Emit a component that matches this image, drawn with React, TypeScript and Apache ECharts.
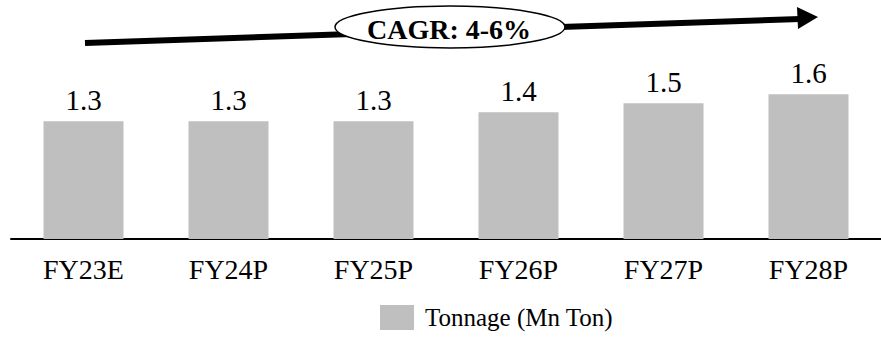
import React, { useEffect, useRef } from "react";
import * as echarts from "echarts";

const categories = ["FY23E", "FY24P", "FY25P", "FY26P", "FY27P", "FY28P"];
const tonnage = [1.3, 1.3, 1.3, 1.4, 1.5, 1.6];
const seriesName = "Tonnage (Mn Ton)";
const cagrText = "CAGR: 4-6%";

const FONT = "'Liberation Serif', 'Times New Roman', serif";

export default function App() {
  const ref = useRef<HTMLDivElement>(null);
  useEffect(() => {
    if (!ref.current) return;
    const chart = echarts.init(ref.current, undefined, { renderer: "svg" });
    chart.setOption({
      animation: false,
      backgroundColor: "#ffffff",
      grid: { left: 11, width: 877, top: 58, height: 181 },
      xAxis: {
        type: "category",
        data: categories,
        axisLine: { show: true, lineStyle: { color: "#000", width: 2 } },
        axisTick: { show: false },
        axisLabel: { color: "#000", fontFamily: FONT, fontSize: 28, margin: 16 },
      },
      yAxis: {
        type: "value",
        min: 0,
        max: 2,
        show: false,
        splitLine: { show: false },
      },
      legend: {
        left: 380,
        top: 305,
        padding: 0,
        itemWidth: 34,
        itemHeight: 25,
        icon: "rect",
        textStyle: { fontFamily: FONT, fontSize: 25, color: "#000", padding: [0, 0, 0, 6] },
        data: [seriesName],
      },
      series: [
        {
          type: "bar",
          name: seriesName,
          data: tonnage,
          barWidth: 80,
          itemStyle: { color: "#BFBFBF" },
          label: {
            show: true,
            position: "top",
            distance: 7,
            color: "#000",
            fontFamily: FONT,
            fontSize: 29,
            formatter: (p: any) => Number(p.value).toFixed(1),
          },
        },
      ],
      graphic: [
        {
          type: "line",
          shape: { x1: 85, y1: 43, x2: 800, y2: 19 },
          style: { stroke: "#000", lineWidth: 6 },
          z: 10,
        },
        {
          type: "polygon",
          shape: { points: [[818, 17], [797, 7], [798, 29]] },
          style: { fill: "#000" },
          z: 10,
        },
        {
          type: "ellipse",
          shape: { cx: 450, cy: 27, rx: 115, ry: 21 },
          style: { fill: "#fff", stroke: "#000", lineWidth: 1.5 },
          z: 11,
        },
        {
          type: "text",
          x: 449,
          y: 29,
          style: {
            text: cagrText,
            fontFamily: FONT,
            fontWeight: "bold",
            fontSize: 28,
            fill: "#000",
            align: "center",
            verticalAlign: "middle",
          },
          z: 12,
        },
      ],
    });
    return () => chart.dispose();
  }, []);
  return (
    <div
      ref={ref}
      style={{ position: "fixed", left: 0, top: 0, width: 881, height: 338 }}
    />
  );
}
